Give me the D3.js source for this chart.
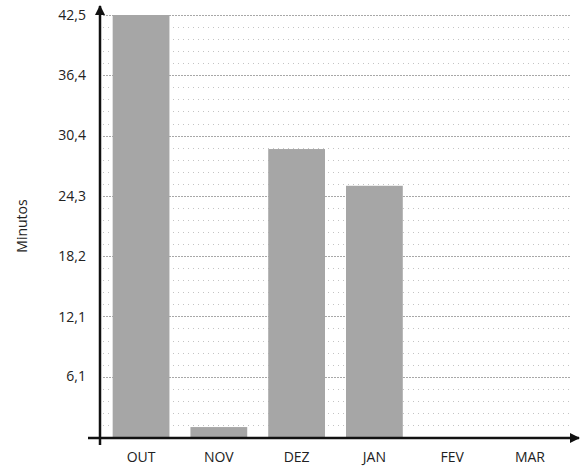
<!DOCTYPE html>
<html>
<head>
<meta charset="utf-8">
<script src="https://cdnjs.cloudflare.com/ajax/libs/d3/7.8.5/d3.min.js"></script>
<style>
  body { margin: 0; background: #fff; }
  text { font-family: "Open Sans", "DejaVu Sans", sans-serif; fill: #222; }
</style>
</head>
<body>
<div id="chart"></div>
<script>
// months and minutes
var months = ["OUT", "NOV", "DEZ", "JAN", "FEV", "MAR"];
var minutes = [42.5, 1.0, 29.0, 25.3, 0, 0];
var tickValues = [6.1, 12.1, 18.2, 24.3, 30.4, 36.4, 42.5];
var tickLabels = ["6,1", "12,1", "18,2", "24,3", "30,4", "36,4", "42,5"];

var width = 581, height = 466;
var svg = d3.select("#chart").append("svg")
  .attr("width", width)
  .attr("height", height);

var plotLeft = 101, plotRight = 570, plotTop = 15, plotBottom = 437;

var x = d3.scaleBand()
  .domain(months)
  .range([plotLeft, plotRight])
  .paddingInner(0.27)
  .paddingOuter(0.15);

var y = d3.scaleLinear()
  .domain([0, 42.5])
  .range([plotBottom, plotTop]);

// grid: major at tick values, 4 minor lines between
var grid = svg.append("g");
var step = 42.5 / 35;
for (var i = 1; i <= 35; i++) {
  var v = i * step;
  var major = (i % 5 === 0);
  grid.append("line")
    .attr("x1", plotLeft + 2).attr("x2", plotRight)
    .attr("y1", Math.round(y(v)) + 0.5).attr("y2", Math.round(y(v)) + 0.5)
    .style("stroke", major ? "#a8a8a8" : "#c4c4c4")
    .style("stroke-width", 1)
    .style("stroke-dasharray", major ? "2,1" : "1,4");
}

// bars
svg.append("g").selectAll("rect")
  .data(months)
  .enter()
  .append("rect")
    .attr("x", function (d) { return x(d); })
    .attr("width", x.bandwidth())
    .attr("y", function (d, i) { return y(minutes[i]); })
    .attr("height", function (d, i) { return plotBottom - y(minutes[i]); })
    .style("fill", "#a6a6a6");

// y axis labels
svg.append("g").selectAll("text")
  .data(tickValues)
  .enter()
  .append("text")
    .attr("x", 86)
    .attr("y", function (d) { return y(d); })
    .attr("dy", "0.35em")
    .attr("text-anchor", "end")
    .style("font-size", "14px")
    .text(function (d, i) { return tickLabels[i]; });

// x axis labels
svg.append("g").selectAll("text")
  .data(months)
  .enter()
  .append("text")
    .attr("x", function (d) { return x(d) + x.bandwidth() / 2; })
    .attr("y", 462)
    .attr("text-anchor", "middle")
    .style("font-size", "14px")
    .text(function (d) { return d; });

// axis title
svg.append("text")
  .attr("transform", "translate(27,226) rotate(-90)")
  .attr("text-anchor", "middle")
  .style("font-size", "14px")
  .text("Minutos");

// axes with arrows
var defs = svg.append("defs");
defs.append("marker")
  .attr("id", "arrow")
  .attr("viewBox", "0 0 10 10")
  .attr("refX", 9).attr("refY", 5)
  .attr("markerWidth", 4).attr("markerHeight", 4)
  .attr("orient", "auto")
  .append("path")
    .attr("d", "M0,0 L10,5 L0,10 Z")
    .style("fill", "#111");

svg.append("line")
  .attr("x1", 100).attr("x2", 100)
  .attr("y1", 445).attr("y2", 6)
  .style("stroke", "#111").style("stroke-width", 2.5)
  .attr("marker-end", "url(#arrow)");

svg.append("line")
  .attr("x1", 88).attr("x2", 579)
  .attr("y1", 438).attr("y2", 438)
  .style("stroke", "#111").style("stroke-width", 2.5)
  .attr("marker-end", "url(#arrow)");
</script>
</body>
</html>
